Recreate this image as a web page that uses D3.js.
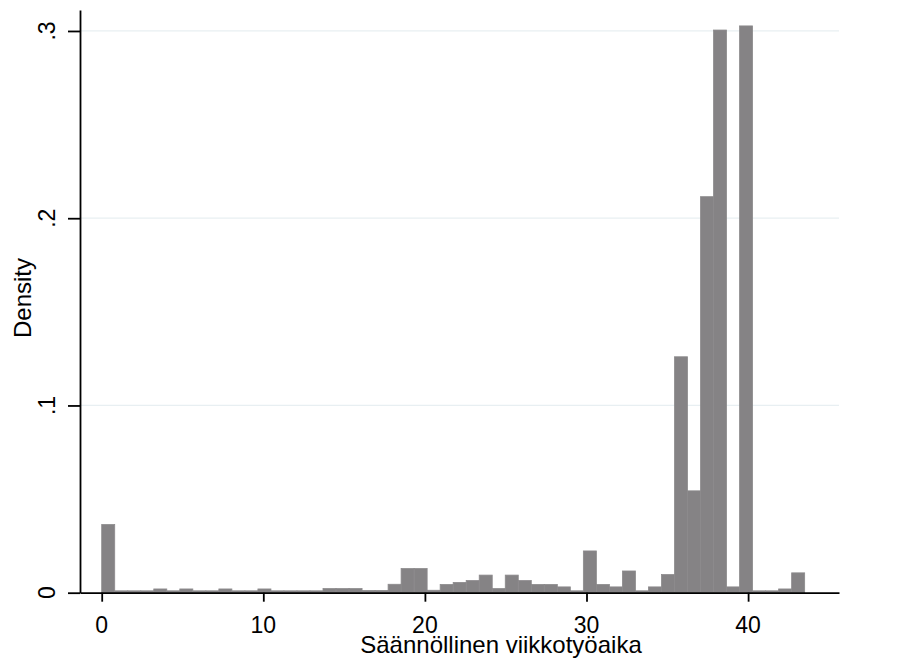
<!DOCTYPE html>
<html>
<head>
<meta charset="utf-8">
<script src="https://cdn.jsdelivr.net/npm/d3@7"></script>
<style>
  body { margin: 0; background: #fff; }
  text { font-family: "Liberation Sans", Arial, sans-serif; fill: #000; }
</style>
</head>
<body>
<svg id="chart" width="915" height="659"></svg>
<script>
// histogram bins: 54 bins from 0 to 43.5
const binStart = 0;
const binWidth = 43.5 / 54;
const density = [
  0.0364, 0.001, 0.001, 0.001, 0.002, 0.001, 0.002, 0.001, 0.001, 0.002,
  0.001, 0.001, 0.002, 0.001, 0.001, 0.001, 0.001, 0.0022, 0.0022, 0.0022,
  0.0012, 0.0012, 0.0045, 0.0129, 0.0129, 0.0013, 0.0044, 0.0055, 0.0065, 0.0094,
  0.0022, 0.0094, 0.0065, 0.0044, 0.0044, 0.0031, 0.001, 0.0223, 0.0044, 0.0031,
  0.0116, 0.001, 0.0031, 0.0097, 0.126, 0.0544, 0.2115, 0.3005, 0.0031, 0.3027,
  0.001, 0.001, 0.002, 0.0106
];
const xTicks = [0, 10, 20, 30, 40];
const yTicks = [0, 0.1, 0.2, 0.3];
const yTickLabels = ["0", ".1", ".2", ".3"];
const xTitle = "Säännöllinen viikkotyöaika";
const yTitle = "Density";

const svg = d3.select("#chart");
const plot = { left: 80, right: 839, top: 10, bottom: 592.7 };

const x = d3.scaleLinear().domain([-1.343, 45.625]).range([plot.left, plot.right]),
      y = d3.scaleLinear().domain([0, 0.3112]).range([plot.bottom, plot.top]);

// gridlines
svg.append("g")
   .selectAll("line")
   .data(yTicks.filter(d => d > 0))
   .enter().append("line")
   .attr("x1", plot.left).attr("x2", plot.right)
   .attr("y1", d => y(d)).attr("y2", d => y(d))
   .attr("stroke", "#e8eff2")
   .attr("stroke-width", 1.2);

// bars
svg.append("g")
   .selectAll("rect")
   .data(density)
   .enter().append("rect")
   .attr("x", (d, i) => x(binStart + i * binWidth))
   .attr("width", x(binWidth) - x(0))
   .attr("y", d => y(d))
   .attr("height", d => y(0) - y(d))
   .attr("fill", "#858385")
   .attr("stroke", "#8c8a8c")
   .attr("stroke-width", 0.8);

// x axis
const gx = svg.append("g")
   .attr("transform", "translate(0," + plot.bottom + ")")
   .call(d3.axisBottom(x).tickValues(xTicks).tickSizeInner(9).tickSizeOuter(0).tickFormat(""));
gx.selectAll("path, line").attr("stroke", "#000").attr("stroke-width", 1.8);

svg.append("g")
   .selectAll("text")
   .data(xTicks)
   .enter().append("text")
   .attr("x", d => x(d))
   .attr("y", 633)
   .attr("text-anchor", "middle")
   .attr("font-size", "23px")
   .text(d => d);

// y axis
const gy = svg.append("g")
   .attr("transform", "translate(" + plot.left + ",0)")
   .call(d3.axisLeft(y).tickValues(yTicks).tickSizeInner(12).tickSizeOuter(0).tickFormat(""));
gy.selectAll("path, line").attr("stroke", "#000").attr("stroke-width", 1.8);

svg.append("g")
   .selectAll("text")
   .data(yTicks)
   .enter().append("text")
   .attr("transform", d => "translate(55," + y(d) + ") rotate(-90)")
   .attr("text-anchor", "middle")
   .attr("font-size", "23px")
   .text((d, i) => yTickLabels[i]);

// titles
svg.append("text")
   .attr("x", 501)
   .attr("y", 653)
   .attr("text-anchor", "middle")
   .attr("font-size", "24px")
   .text(xTitle);

svg.append("text")
   .attr("transform", "translate(31,298) rotate(-90)")
   .attr("text-anchor", "middle")
   .attr("font-size", "24px")
   .text(yTitle);
</script>
</body>
</html>
